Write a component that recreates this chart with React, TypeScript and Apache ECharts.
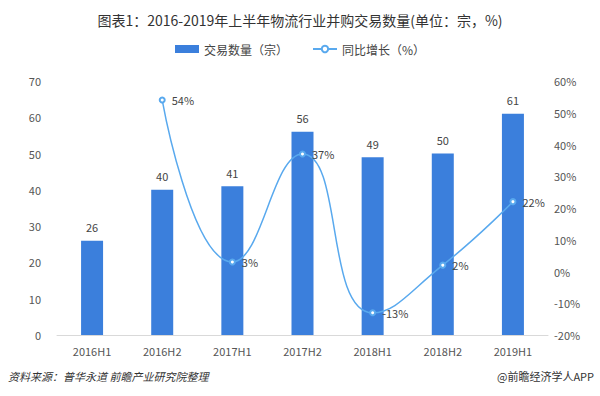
import React, { useEffect, useRef } from "react";
import * as echarts from "echarts";

const categories = ["2016H1", "2016H2", "2017H1", "2017H2", "2018H1", "2018H2", "2019H1"];
const dealCounts = [26, 40, 41, 56, 49, 50, 61];
const growthRates: (number | null)[] = [null, 54, 3, 37, -13, 2, 22];
const leftTicks = { min: 0, max: 70, interval: 10 };
const rightTicks = { min: -20, max: 60, interval: 10 };

const FONT = "'Noto Sans CJK SC', 'Noto Sans', sans-serif";

export default function App() {
  const ref = useRef<HTMLDivElement>(null);
  useEffect(() => {
    if (!ref.current) return;
    const chart = echarts.init(ref.current, null, { renderer: "svg" });
    chart.setOption({
      animation: false,
      backgroundColor: "#ffffff",
      textStyle: { fontFamily: FONT },
      title: {
        text: "图表1：2016-2019年上半年物流行业并购交易数量(单位：宗，%)",
        left: "center",
        top: 8,
        textStyle: { fontSize: 14, fontWeight: "normal", color: "#333", fontFamily: FONT },
      },
      legend: {
        top: 38,
        left: "center",
        itemGap: 24,
        itemWidth: 24,
        itemHeight: 8,
        textStyle: { fontSize: 12, color: "#444", fontFamily: FONT },
        data: [
          { name: "交易数量（宗）", icon: "rect" },
          { name: "同比增长（%）" },
        ],
      },
      grid: { left: 57, right: 52, top: 81, bottom: 61 },
      xAxis: {
        type: "category",
        data: categories,
        axisLine: { lineStyle: { color: "#d9d9d9" } },
        axisTick: { show: false },
        axisLabel: { color: "#555", fontSize: 11, margin: 10 },
      },
      yAxis: [
        {
          type: "value",
          ...leftTicks,
          splitLine: { show: false },
          axisLine: { show: false },
          axisTick: { show: false },
          axisLabel: { color: "#555", fontSize: 11, margin: 16 },
        },
        {
          type: "value",
          ...rightTicks,
          splitLine: { show: false },
          axisLine: { show: false },
          axisTick: { show: false },
          axisLabel: { color: "#555", fontSize: 11, formatter: "{value}%", margin: 6 },
        },
      ],
      series: [
        {
          name: "交易数量（宗）",
          type: "bar",
          data: dealCounts,
          barWidth: 22,
          itemStyle: { color: "#3b7fdc" },
          label: { show: true, position: "top", color: "#444", fontSize: 11, distance: 8 },
        },
        {
          name: "同比增长（%）",
          type: "line",
          yAxisIndex: 1,
          data: growthRates,
          smooth: true,
          symbol: "emptyCircle",
          symbolSize: 5,
          lineStyle: { color: "#59a9ee", width: 1.5 },
          itemStyle: { color: "#59a9ee" },
          label: {
            show: true,
            position: "right",
            color: "#444",
            fontSize: 11,
            distance: 6,
            formatter: (p: any) => `${p.value}%`,
          },
        },
      ],
      graphic: [
        {
          type: "text",
          left: 8,
          top: 370,
          style: {
            text: "资料来源：普华永道 前瞻产业研究院整理",
            fontSize: 11,
            fontStyle: "italic",
            fill: "#333",
            fontFamily: FONT,
          },
        },
        {
          type: "text",
          right: 6,
          top: 370,
          style: {
            text: "@前瞻经济学人APP",
            fontSize: 11,
            fill: "#333",
            fontFamily: FONT,
          },
        },
      ],
    });
    return () => chart.dispose();
  }, []);
  return <div ref={ref} style={{ width: 600, height: 396, position: "absolute", left: 0, top: 0 }} />;
}
